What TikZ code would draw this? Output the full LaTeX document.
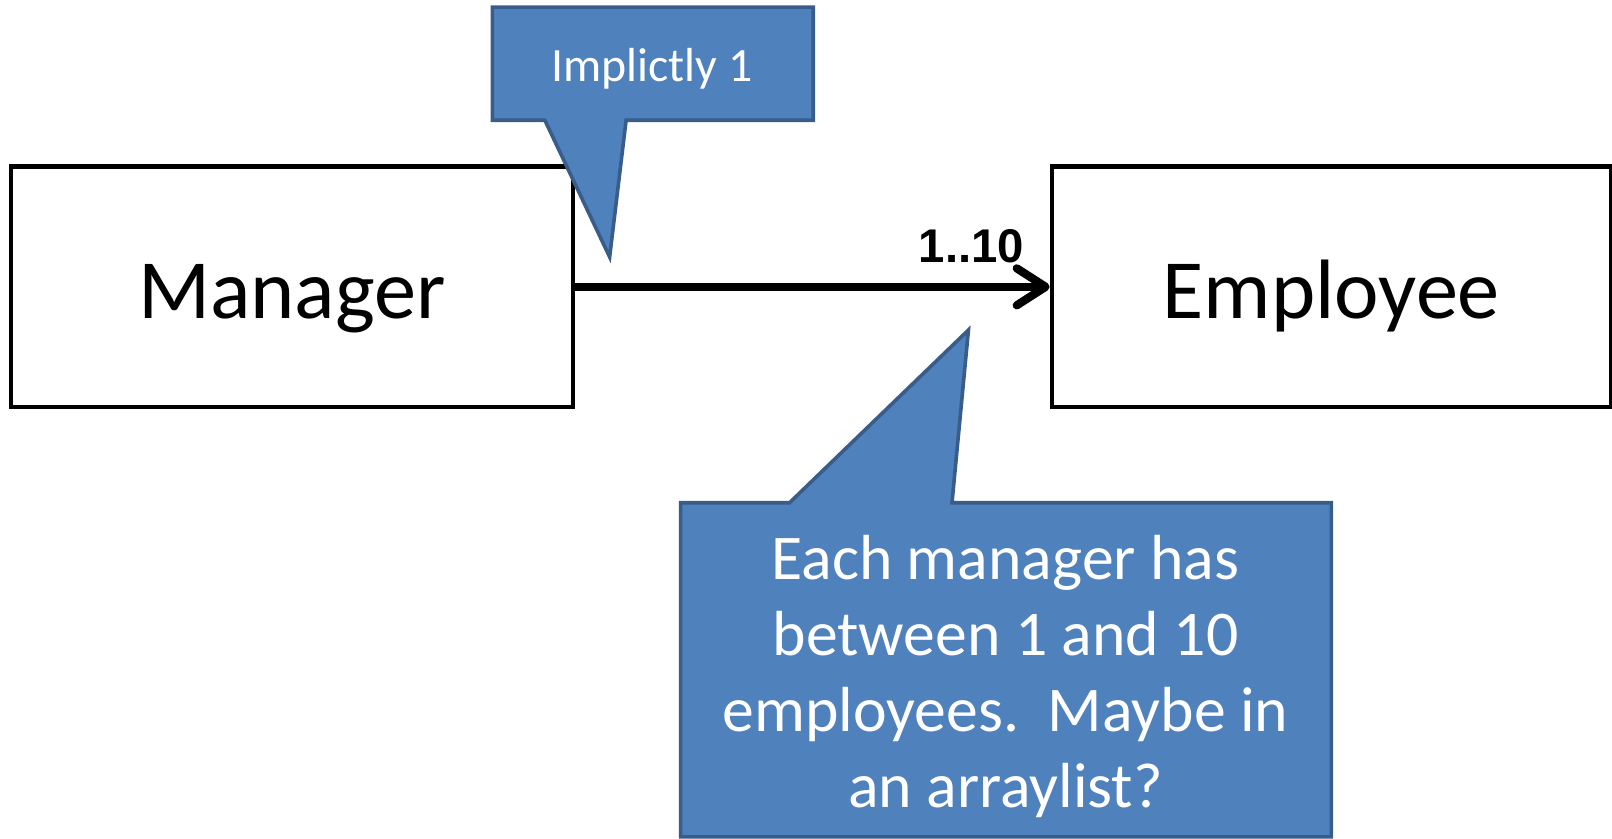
\documentclass[tikz,border=0pt]{standalone}
\usepackage{fontspec}
\setmainfont{Carlito}
\newfontfamily\arialfont{Liberation Sans}
\usetikzlibrary{arrows.meta}
\definecolor{calfill}{HTML}{4F81BD}
\definecolor{caldraw}{HTML}{385D8A}
\begin{document}
\begin{tikzpicture}[x=1pt,y=-1pt,
  classbox/.style={draw=black, line width=4pt, minimum width=546pt, minimum height=234pt,
    inner sep=0pt, text height=62pt, text depth=0pt, font=\fontsize{82}{98}\selectfont},
  callout/.style={fill=calfill, draw=caldraw, line width=3.5pt, line join=miter},
  calltext/.style={text=white, align=center, inner sep=0pt},
  assoc/.style={line width=8pt, -{Straight Barb[length=28pt,width=36pt,round]}}]
\useasboundingbox (0,0) rectangle (1568,816);
\node[classbox] (mgr) at (284,279) {Manager};
\node[classbox, minimum width=544pt] (emp) at (1295,279) {Employee};
\draw[assoc] (mgr.east) -- (emp.west);
\node[anchor=base, inner sep=0pt, font=\arialfont\bfseries\fontsize{46}{55}\selectfont] (mult) at (945,255) {1..10};
% callout 1
\draw[callout] (479,7) -- (791,7) -- (791,117) -- (609,117) -- (593,250) -- (530,117) -- (479,117) -- cycle;
\node[calltext, anchor=base, font=\fontsize{46.5}{56}\selectfont] (c1) at (634,79) {Implictly 1};
% callout 2
\draw[callout] (662,489) -- (768,489) -- (942,321) -- (926,489) -- (1295,489) -- (1295,814) -- (662,814) -- cycle;
\node[calltext, font=\fontsize{62}{74}\selectfont] (c2) at (978,658) {Each manager has\\between 1 and 10\\employees.\ \ Maybe in\\an arraylist?};
\end{tikzpicture}
\end{document}
